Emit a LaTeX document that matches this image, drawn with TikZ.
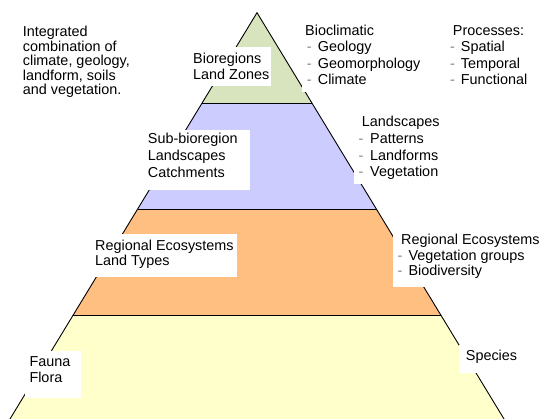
\documentclass[tikz,border=0pt]{standalone}
\usepackage{fontspec}
\setmainfont{Liberation Sans}
\definecolor{bandgreen}{HTML}{D7E4BD}
\definecolor{bandblue}{HTML}{CCCCFF}
\definecolor{bandorange}{HTML}{FFBF80}
\definecolor{bandyellow}{HTML}{FFFFCC}
\definecolor{dashgray}{HTML}{808080}
\newcommand{\itm}[1]{\makebox[11pt][l]{\textcolor{dashgray}{-}}#1}
\tikzset{
  edge/.style={line width=0.9pt, black},
  whitebox/.style={fill=white},
  txt/.style={anchor=base west, inner sep=0pt, align=left, text=black},
}
\begin{document}
\begin{tikzpicture}[x=1pt,y=-1pt]
\useasboundingbox (0,0) rectangle (540,419);
\begin{scope}
  \clip (0,0) rectangle (540,419);
  \coordinate (A) at (257,12.7);
  \coordinate (L1) at (201.9,103.3);
  \coordinate (R1) at (312.1,103.3);
  \coordinate (L2) at (137.5,209.3);
  \coordinate (R2) at (376.5,209.3);
  \coordinate (L3) at (73.2,315);
  \coordinate (R3) at (440.8,315);
  \coordinate (L4) at (3.3,430);
  \coordinate (R4) at (510.7,430);
  \fill[bandgreen] (A) -- (R1) -- (L1) -- cycle;
  \fill[bandblue] (L1) -- (R1) -- (R2) -- (L2) -- cycle;
  \fill[bandorange] (L2) -- (R2) -- (R3) -- (L3) -- cycle;
  \fill[bandyellow] (L3) -- (R3) -- (R4) -- (L4) -- cycle;
  \draw[edge] (L4) -- (A) -- (R4);
  \draw[edge] (L1) -- (R1);
  \draw[edge] (L2) -- (R2);
  \draw[edge] (L3) -- (R3);
\end{scope}
% white label backgrounds
\fill[whitebox] (189,46.7) rectangle (270.7,86);
\fill[whitebox] (144,130) rectangle (250,190);
\fill[whitebox] (301.7,22) rectangle (440,92.3);
\fill[whitebox] (354,110) rectangle (470,184);
\fill[whitebox] (91,234) rectangle (236.7,277.3);
\fill[whitebox] (392.7,228) rectangle (540,286.7);
\fill[whitebox] (25,351) rectangle (81,397.7);
\fill[whitebox] (459.3,345) rectangle (520,372.7);
% texts (anchored at the baseline of their last line)
\node[txt, font=\fontsize{14.4}{14.6}\selectfont] (intro) at (22.7,94.9)
  {Integrated\\combination of\\climate, geology,\\landform, soils\\and vegetation.};
\node[txt, font=\fontsize{14.4}{15.3}\selectfont] (bio) at (193,79.3)
  {Bioregions\\Land Zones};
\node[txt, font=\fontsize{14.4}{16.6}\selectfont] (sub) at (147.7,177.2)
  {Sub-bioregion\\Landscapes\\Catchments};
\node[txt, font=\fontsize{14.4}{15.7}\selectfont] (regl) at (95,265.7)
  {Regional Ecosystems\\Land Types};
\node[txt, font=\fontsize{14.4}{16}\selectfont] (fauna) at (29.3,382.7)
  {Fauna\\Flora};
\node[txt, font=\fontsize{14.4}{16.2}\selectfont] (clim) at (305,84.3)
  {Bioclimatic\\\hspace*{1.7pt}\itm{Geology}\\\hspace*{1.7pt}\itm{Geomorphology}\\\hspace*{1.7pt}\itm{Climate}};
\node[txt, font=\fontsize{14.4}{16.2}\selectfont] (proc) at (450,84.3)
  {\hspace*{2.7pt}Processes:\\\makebox[10.7pt][l]{\textcolor{dashgray}{-}}Spatial\\\makebox[10.7pt][l]{\textcolor{dashgray}{-}}Temporal\\\makebox[10.7pt][l]{\textcolor{dashgray}{-}}Functional};
\node[txt, font=\fontsize{14.4}{16.7}\selectfont] (land) at (358.3,176.8)
  {\hspace*{3.4pt}Landscapes\\\makebox[11.7pt][l]{\textcolor{dashgray}{-}}Patterns\\\makebox[11.7pt][l]{\textcolor{dashgray}{-}}Landforms\\\makebox[11.7pt][l]{\textcolor{dashgray}{-}}Vegetation};
\node[txt, font=\fontsize{14.4}{15.7}\selectfont] (regr) at (397.3,275.7)
  {\hspace*{3.7pt}Regional Ecosystems\\\itm{Vegetation groups}\\\itm{Biodiversity}};
\node[txt, font=\fontsize{14.4}{16}\selectfont] (spec) at (465.7,360.5)
  {Species};
\end{tikzpicture}
\end{document}
